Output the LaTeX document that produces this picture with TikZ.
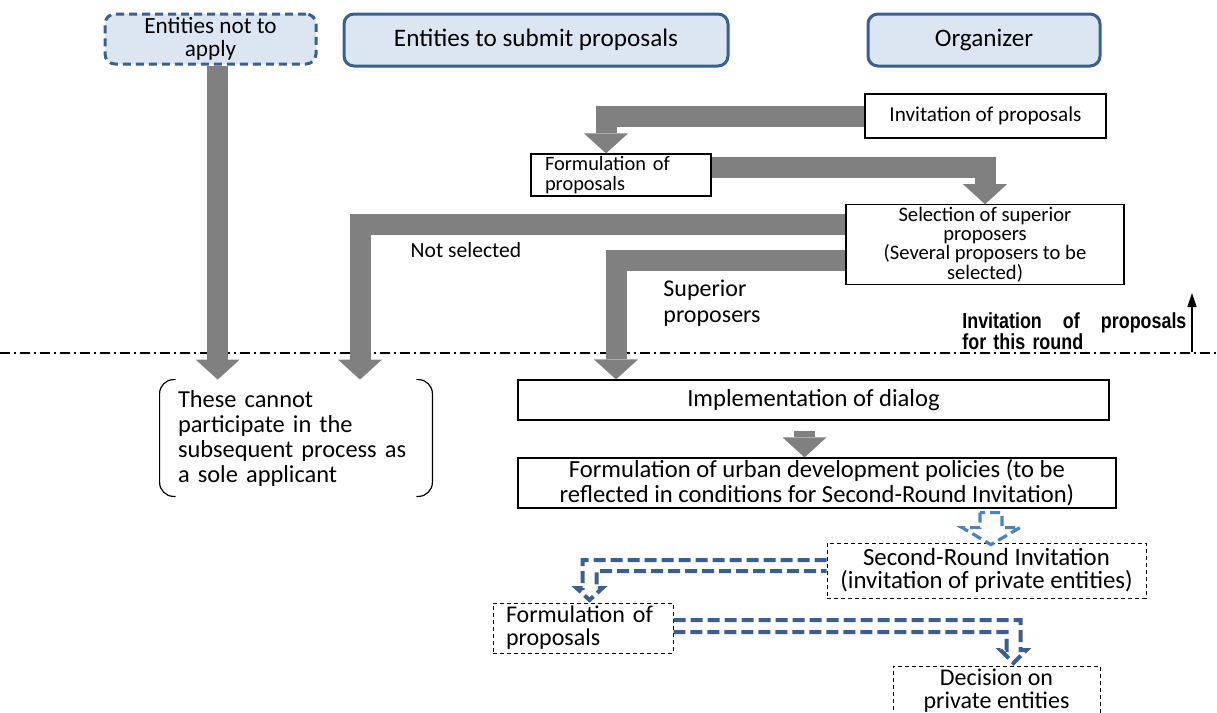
\documentclass[tikz,border=0pt]{standalone}
\usepackage{fontspec}
\setmainfont{Carlito}
\newfontfamily\gothic[FakeStretch=0.82]{Liberation Sans}
\usetikzlibrary{arrows.meta, positioning}

\definecolor{hdrblue}{HTML}{3B5F8F}
\definecolor{hdrfill}{HTML}{DCE6F2}
\definecolor{shaftgray}{HTML}{808080}
\definecolor{dashblue}{HTML}{3C5F93}
\definecolor{lightblue}{HTML}{4F81BD}

\begin{document}
\begin{tikzpicture}[x=0.5pt, y=-0.5pt,
        hdr/.style={draw=hdrblue, line width=1.5pt, fill=hdrfill, rounded corners=5pt, align=center, inner sep=1pt, font=\fontsize{12.6}{12}\selectfont},
        smallbox/.style={draw, line width=0.6pt, align=center, inner sep=1pt, font=\fontsize{10.3}{9.7}\selectfont},
        mainbox/.style={draw, line width=0.6pt, align=center, inner sep=1pt, font=\fontsize{12.3}{12.3}\selectfont},
        dashbox/.style={mainbox, line width=0.5pt, dash pattern=on 2pt off 1.5pt},
        bigarrow/.style={draw=shaftgray, line width=10.5pt, line join=miter, -{Triangle[width=22pt,length=10pt,line width=0pt]}},
        outlinearrow/.style={draw=dashblue, line width=2pt, line join=miter, dash pattern=on 6pt off 2.5pt},
        lightarrow/.style={draw=lightblue, line width=1.6pt, line join=miter, dash pattern=on 5pt off 2.5pt}
    ]
    \useasboundingbox (0,0) rectangle (1217,713);

    % headers
    \node[hdr, dash pattern=on 4pt off 2.5pt, minimum width=105.5pt, minimum height=25pt, font=\fontsize{11.6}{11.4}\selectfont] (noapply) at (210.5,39) {Entities not to\\apply};
    \node[hdr, minimum width=192pt, minimum height=26pt] (submit) at (536,40) {Entities to submit proposals};
    \node[hdr, minimum width=116pt, minimum height=26pt] (organizer) at (984,40) {Organizer};

    % first round
    \node[smallbox, minimum width=120.5pt, minimum height=22pt, font=\fontsize{10.6}{10}\selectfont] (invite) at (985.5,116) {Invitation of proposals};
    \node[smallbox, align=left, inner xsep=7pt, text width=76pt, minimum height=21pt, font=\fontsize{10.2}{10}\selectfont] (form1) at (621,175) {Formulation of\\proposals};
    \node[smallbox, minimum width=139pt, minimum height=39.5pt] (select) at (985,244.5) {Selection of superior\\proposers\\(Several proposers to be\\selected)};
    \node[font=\fontsize{10.8}{10}\selectfont] (notsel) at (466,250) {Not selected};
    \node[font=\fontsize{12}{13}\selectfont, align=left, anchor=north west, inner sep=0pt] (supprop) at (663,280) {Superior\\proposers};

    % round boundary
    \coordinate (sepL) at (0,353);
    \coordinate (sepR) at (1217,353);
    \draw[line width=0.6pt, dash pattern=on 5pt off 2pt on 1pt off 2pt] (sepL) -- (sepR);
    \node[font=\gothic\bfseries\fontsize{10.9}{10.5}\selectfont, text width=112pt, anchor=south west, inner sep=0pt] (thisround) at (962,350) {Invitation\hfill of\hfill proposals\\for this round};
    \coordinate (upfoot) at (1192,352);
    \coordinate (uphead) at (1192,293);
    \draw[line width=0.8pt, -{Triangle[width=4.5pt,length=7pt]}] (upfoot) -- (uphead);

    % second part
    \node[font=\fontsize{12.2}{12.5}\selectfont, align=left, inner xsep=9pt, text width=118pt, minimum height=58pt] (cannot) at (296,438) {These cannot\\participate in the\\subsequent process as\\a sole applicant};
    \draw[line width=0.6pt, rounded corners=7pt] ([xshift=8pt]cannot.north west) -- (cannot.north west) -- (cannot.south west) -- ([xshift=8pt]cannot.south west);
    \draw[line width=0.6pt, rounded corners=7pt] ([xshift=-8pt]cannot.north east) -- (cannot.north east) -- (cannot.south east) -- ([xshift=-8pt]cannot.south east);
    \node[mainbox, minimum width=295.5pt, minimum height=20pt] (dialog) at (813.5,400) {Implementation of dialog};
    \node[mainbox, minimum width=299pt, minimum height=23pt] (policy) at (817,483) {Formulation of urban development policies (to be\\reflected in conditions for Second-Round Invitation)};
    \node[dashbox, minimum width=159.5pt, minimum height=27.5pt, font=\fontsize{12.4}{11.8}\selectfont] (second) at (986.5,570.5) {Second-Round Invitation\\(invitation of private entities)};
    \node[dashbox, align=left, inner xsep=6.5pt, text width=77pt, minimum height=25pt, font=\fontsize{12}{11.5}\selectfont] (form2) at (583,628) {Formulation of\\proposals};
    \node[dashbox, minimum width=103.5pt, minimum height=25pt, font=\fontsize{12}{11.5}\selectfont] (decide) at (996.5,691) {Decision on\\private entities};

    % gray arrows
    \draw[bigarrow] ([xshift=3.6pt]noapply.south) -- ([xshift=3.6pt]noapply.south |- cannot.north);
    \draw[bigarrow] (invite.west) -| ([xshift=-7.5pt]form1.north);
    \draw[bigarrow] ([yshift=4pt]form1.east) -| (select.north);
    \draw[bigarrow] ([yshift=10pt]select.west) -| ([xshift=32pt]cannot.north);
    \draw[bigarrow] ([yshift=-8pt]select.west) -| ([xshift=-98.75pt]dialog.north);
    \draw[bigarrow, shorten <=5pt] ([xshift=-4.5pt]dialog.south) -- ([xshift=-4.5pt]dialog.south |- policy.north);

    % dashed outline arrows
    \draw[lightarrow] ([xshift=81.5pt,yshift=-2pt]policy.south) -- ++(0,15) -- ++(-18,0) -- ++(29,17) -- ++(29,-17) -- ++(-18,0) -- ++(0,-15) -- cycle;
    \draw[outlinearrow] ([yshift=5.25pt]second.west) -| ++(-244,28) -- ++(-6,0) -- ++(13,12) -- ++(13,-12) -- ++(-6,0) |- ([yshift=-0.25pt]second.west);
    \draw[outlinearrow] ([yshift=4pt]form2.east) -| ++(347,30) -- ++(6,0) -- ++(-13,13) -- ++(-13,-13) -- ++(6,0) |- ([yshift=-2pt]form2.east);
\end{tikzpicture}
\end{document}
